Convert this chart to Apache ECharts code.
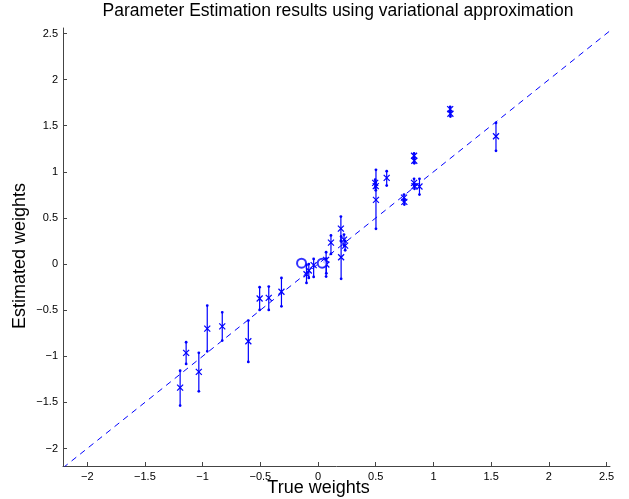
<!DOCTYPE html>
<html lang="en">
<head>
    <meta charset="UTF-8">
    <title>Parameter Estimation</title>
    <script src="https://cdn.jsdelivr.net/npm/echarts@6/dist/echarts.min.js"></script>
</head>
<style>
    *{
        margin: 0;
        padding: 0;
    }
    html,body{
        width: 100%;
        height: 100%;
        overflow: hidden;
        background: #fff;
    }
    .container{
        width: 629px;
        height: 499px;
    }
</style>
<body>
<div class="container"></div>
<script>
    // true weight, estimated weight, lower / upper end of the error bar
    let trueW = [-1.195, -1.143, -1.033, -0.960, -0.830, -0.604, -0.506, -0.427, -0.317,
        -0.100, -0.080, -0.038, 0.070, 0.072, 0.112, 0.198, 0.200, 0.225, 0.235,
        0.502, 0.495, 0.500, 0.595, 0.745, 0.748, 0.832, 0.834, 0.832, 0.836, 0.879,
        1.145, 1.147, 1.542];
    let estW = [-1.340, -0.963, -1.169, -0.700, -0.675, -0.837, -0.374, -0.367, -0.300,
        -0.110, -0.070, -0.012, 0.045, -0.005, 0.232, 0.385, 0.074, 0.265, 0.200,
        0.696, 0.880, 0.845, 0.935, 0.720, 0.675, 1.175, 1.120, 0.880, 0.845, 0.841,
        1.680, 1.630, 1.386];
    let errLow = [-1.535, -1.083, -1.380, -0.946, -0.830, -1.061, -0.497, -0.497, -0.458,
        -0.205, -0.150, -0.140, -0.136, -0.100, 0.110, 0.250, -0.160, 0.200, 0.150,
        0.382, 0.830, 0.800, 0.851, 0.680, 0.645, 1.140, 1.093, 0.850, 0.816, 0.754,
        1.650, 1.600, 1.228];
    let errHigh = [-1.157, -0.848, -0.963, -0.450, -0.523, -0.613, -0.251, -0.244, -0.150,
        -0.010, 0.000, 0.055, 0.128, 0.060, 0.310, 0.515, 0.300, 0.320, 0.250,
        1.022, 0.915, 0.890, 1.007, 0.754, 0.700, 1.200, 1.150, 0.924, 0.870, 0.924,
        1.705, 1.660, 1.531];

    // the two circled estimates
    let circleX = [-0.143, 0.036];
    let circleY = [0.010, 0.010];

    // y = x reference line, across the axis range
    let diagLine = [-2.21, 2.56];

    let tickValues = [-2, -1.5, -1, -0.5, 0, 0.5, 1, 1.5, 2, 2.5];

    let blue = '#0000ff';

    let errData = trueW.map((x, i) => [x, estW[i], errLow[i], errHigh[i]]);
    let circleData = circleX.map((x, i) => [x, circleY[i]]);

    function renderErr(params, api) {
        let p = api.coord([api.value(0), api.value(1)]);
        let lo = api.coord([api.value(0), api.value(2)]);
        let hi = api.coord([api.value(0), api.value(3)]);
        let s = 3;
        let st = {stroke: blue, lineWidth: 1.2};
        return {
            type: 'group',
            children: [
                {type: 'line', shape: {x1: lo[0], y1: lo[1], x2: hi[0], y2: hi[1]}, style: st},
                {type: 'circle', shape: {cx: lo[0], cy: lo[1], r: 1.4}, style: {fill: blue}},
                {type: 'circle', shape: {cx: hi[0], cy: hi[1], r: 1.4}, style: {fill: blue}},
                {type: 'line', shape: {x1: p[0] - s, y1: p[1] - s, x2: p[0] + s, y2: p[1] + s}, style: st},
                {type: 'line', shape: {x1: p[0] - s, y1: p[1] + s, x2: p[0] + s, y2: p[1] - s}, style: st}
            ]
        };
    }

    function fmt(v) {
        return String(v).replace('-', '\u2212');
    }

    let axisCommon = {
        type: 'value',
        splitLine: {show: false},
        axisLine: {show: true, onZero: false, lineStyle: {color: '#444', width: 1}},
        axisTick: {show: true, inside: true, length: 4, customValues: tickValues,
            lineStyle: {color: '#444'}},
        axisLabel: {customValues: tickValues, formatter: fmt, color: '#000',
            fontFamily: 'Liberation Sans', fontSize: 11, margin: 5},
        nameLocation: 'middle',
        nameMoveOverlap: false
    };
    let nameFont = {color: '#000', fontFamily: 'Liberation Sans', fontSize: 18};

    let chart = echarts.init(document.querySelector('.container'));
    let option = {
        backgroundColor: '#fff',
        animation: false,
        title: {
            text: 'Parameter Estimation results using variational approximation',
            left: 333,
            textAlign: 'center',
            top: -3,
            textStyle: {fontFamily: 'Liberation Sans', fontSize: 17.5, fontWeight: 'normal', color: '#000'}
        },
        grid: {left: 63, right: 19, top: 28, bottom: 33, outerBoundsMode: 'none', containLabel: false},
        xAxis: Object.assign({}, axisCommon, {
            min: -2.21, max: 2.53,
            name: 'True weights',
            nameGap: 13,
            nameTextStyle: Object.assign({padding: [0, 36, 0, 0]}, nameFont)
        }),
        yAxis: Object.assign({}, axisCommon, {
            min: -2.19, max: 2.56,
            name: 'Estimated weights',
            nameGap: 34,
            nameTextStyle: Object.assign({padding: [0, 18, 0, 0]}, nameFont)
        }),
        series: [
            {
                type: 'line',
                data: diagLine.map(v => [v, v]),
                symbol: 'none',
                lineStyle: {color: blue, width: 1, type: [6, 5]},
                silent: true
            },
            {
                type: 'custom',
                renderItem: renderErr,
                data: errData,
                encode: {x: 0, y: 1}
            },
            {
                type: 'scatter',
                data: circleData,
                symbol: 'emptyCircle',
                symbolSize: 9,
                itemStyle: {color: blue, borderColor: blue, borderWidth: 1}
            }
        ]
    };
    chart.setOption(option);
</script>
</body>
</html>
